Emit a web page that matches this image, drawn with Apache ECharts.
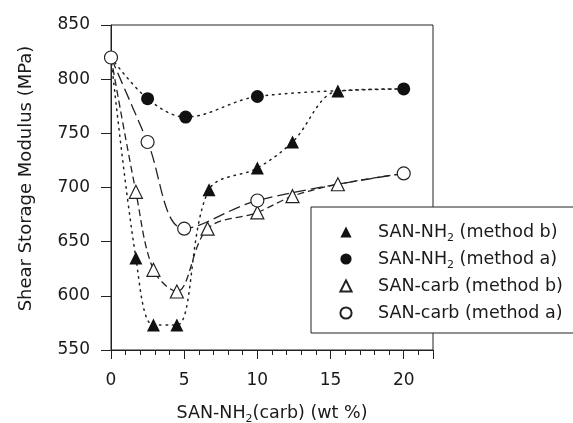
<!DOCTYPE html>
<html>
<head>
<meta charset="utf-8">
<script src="https://cdn.jsdelivr.net/npm/echarts@6/dist/echarts.min.js"></script>
<style>html,body{margin:0;padding:0;background:#fff;}#c{width:573px;height:423px;}</style>
</head>
<body>
<div id="c"></div>
<script>
// ---- data ----
var seriesNames = ['SAN-NH2 (method b)', 'SAN-NH2 (method a)', 'SAN-carb (method b)', 'SAN-carb (method a)'];
var nh2B_x = [0, 1.7, 2.9, 4.5, 6.7, 10, 12.4, 15.5, 20];
var nh2B_y = [820, 635, 573, 573, 698, 718, 742, 789, 791];
var nh2A_x = [0, 2.5, 5.1, 10, 20];
var nh2A_y = [820, 782, 765, 784, 791];
var carbB_x = [0, 1.7, 2.9, 4.5, 6.6, 10, 12.4, 15.5, 20];
var carbB_y = [820, 696, 624, 604, 662, 677, 692, 703, 713];
var carbA_x = [0, 2.5, 5, 10, 20];
var carbA_y = [820, 742, 662, 688, 713];
// points shared with another series (drawn without their own marker)
var nh2B_hidden = [0, 8];
var nh2A_hidden = [0];
var carbB_hidden = [0, 8];
var carbA_hidden = [];
var xTickLabels = [0, 5, 10, 15, 20];
var yTickLabels = [550, 600, 650, 700, 750, 800, 850];

var FONT = 'DejaVu Sans';
var TXT = '#1a1a1a';

function build(xs, ys, hidden) {
  return xs.map(function (x, i) {
    var d = { value: [x, ys[i]] };
    if (hidden.indexOf(i) >= 0) d.symbol = 'none';
    return d;
  });
}
function sub(name) { return name.replace('NH2', 'NH{sub|2}'); }

var rich = { sub: { fontSize: 11, fontFamily: FONT, color: TXT, lineHeight: 2, padding: [12, 0, 0, 0] } };

var chart = echarts.init(document.getElementById('c'), null, { renderer: 'canvas' });
chart.setOption({
  animation: false,
  backgroundColor: '#fff',
  grid: { left: 111, right: 140, top: 25, bottom: 73, outerBoundsMode: 'none', containLabel: false,
    show: true, borderColor: '#222', borderWidth: 1, backgroundColor: 'transparent' },
  legend: {
    orient: 'vertical', left: 311, top: 207,
    padding: [13, 13, 8, 7],
    itemWidth: 54, itemHeight: 14, itemGap: 3,
    backgroundColor: '#fff', borderColor: '#222', borderWidth: 1,
    data: seriesNames,
    formatter: function (n) { return sub(n); },
    lineStyle: { opacity: 0 },
    textStyle: { fontFamily: FONT, fontSize: 17.5, color: TXT, lineHeight: 24, rich: rich }
  },
  xAxis: [{
    type: 'value', min: 0, max: 22, interval: 1,
    name: 'SAN-NH{sub|2}(carb) (wt %)', nameLocation: 'middle', nameGap: 53,
    nameTextStyle: { fontFamily: FONT, fontSize: 17.5, color: TXT, lineHeight: 20, rich: rich },
    axisLine: { show: true, lineStyle: { color: '#222', width: 1 } },
    axisTick: { show: true, length: 5, lineStyle: { color: '#222' } },
    axisLabel: { margin: 22, fontFamily: FONT, fontSize: 17, color: TXT,
      formatter: function (v) { return xTickLabels.indexOf(v) >= 0 ? String(v) : ''; } },
    splitLine: { show: false }
  }, {
    type: 'value', min: 0, max: 22, interval: 5, position: 'bottom',
    axisLine: { show: false },
    axisTick: { show: true, length: 9, lineStyle: { color: '#222' } },
    axisLabel: { show: false },
    splitLine: { show: false }
  }],
  yAxis: {
    type: 'value', min: 550, max: 850, interval: 50,
    name: 'Shear Storage Modulus (MPa)', nameLocation: 'middle', nameGap: 76,
    nameTextStyle: { fontFamily: FONT, fontSize: 18, color: TXT, padding: [0, 0, 0, 18] },
    axisLine: { show: true, lineStyle: { color: '#222', width: 1 } },
    axisTick: { show: true, length: 10, lineStyle: { color: '#222' } },
    axisLabel: { margin: 21, fontFamily: FONT, fontSize: 17, color: TXT,
      formatter: function (v) { return yTickLabels.indexOf(v) >= 0 ? String(v) : ''; } },
    splitLine: { show: false }
  },
  series: [{
    name: seriesNames[0], type: 'line', smooth: 0.35, xAxisIndex: 0,
    data: build(nh2B_x, nh2B_y, nh2B_hidden),
    symbol: 'triangle', symbolSize: 13,
    itemStyle: { color: '#111', borderColor: '#111', borderWidth: 0 },
    lineStyle: { color: '#222', width: 1.5, type: [1.5, 5], cap: 'round' }
  }, {
    name: seriesNames[1], type: 'line', smooth: 0.35, xAxisIndex: 0,
    data: build(nh2A_x, nh2A_y, nh2A_hidden),
    symbol: 'circle', symbolSize: 13,
    itemStyle: { color: '#111', borderColor: '#111', borderWidth: 0 },
    lineStyle: { color: '#222', width: 1.5, type: [1.5, 5], cap: 'round' }
  }, {
    name: seriesNames[2], type: 'line', smooth: 0.35, xAxisIndex: 0,
    data: build(carbB_x, carbB_y, carbB_hidden),
    symbol: 'triangle', symbolSize: 13,
    itemStyle: { color: '#fff', borderColor: '#222', borderWidth: 1.2 },
    lineStyle: { color: '#222', width: 1.3, type: [7, 4] }
  }, {
    name: seriesNames[3], type: 'line', smooth: 0.35, xAxisIndex: 0,
    data: build(carbA_x, carbA_y, carbA_hidden),
    symbol: 'circle', symbolSize: 13,
    itemStyle: { color: '#fff', borderColor: '#222', borderWidth: 1.2 },
    lineStyle: { color: '#222', width: 1.3, type: [12, 5] }
  }]
});
</script>
</body>
</html>
